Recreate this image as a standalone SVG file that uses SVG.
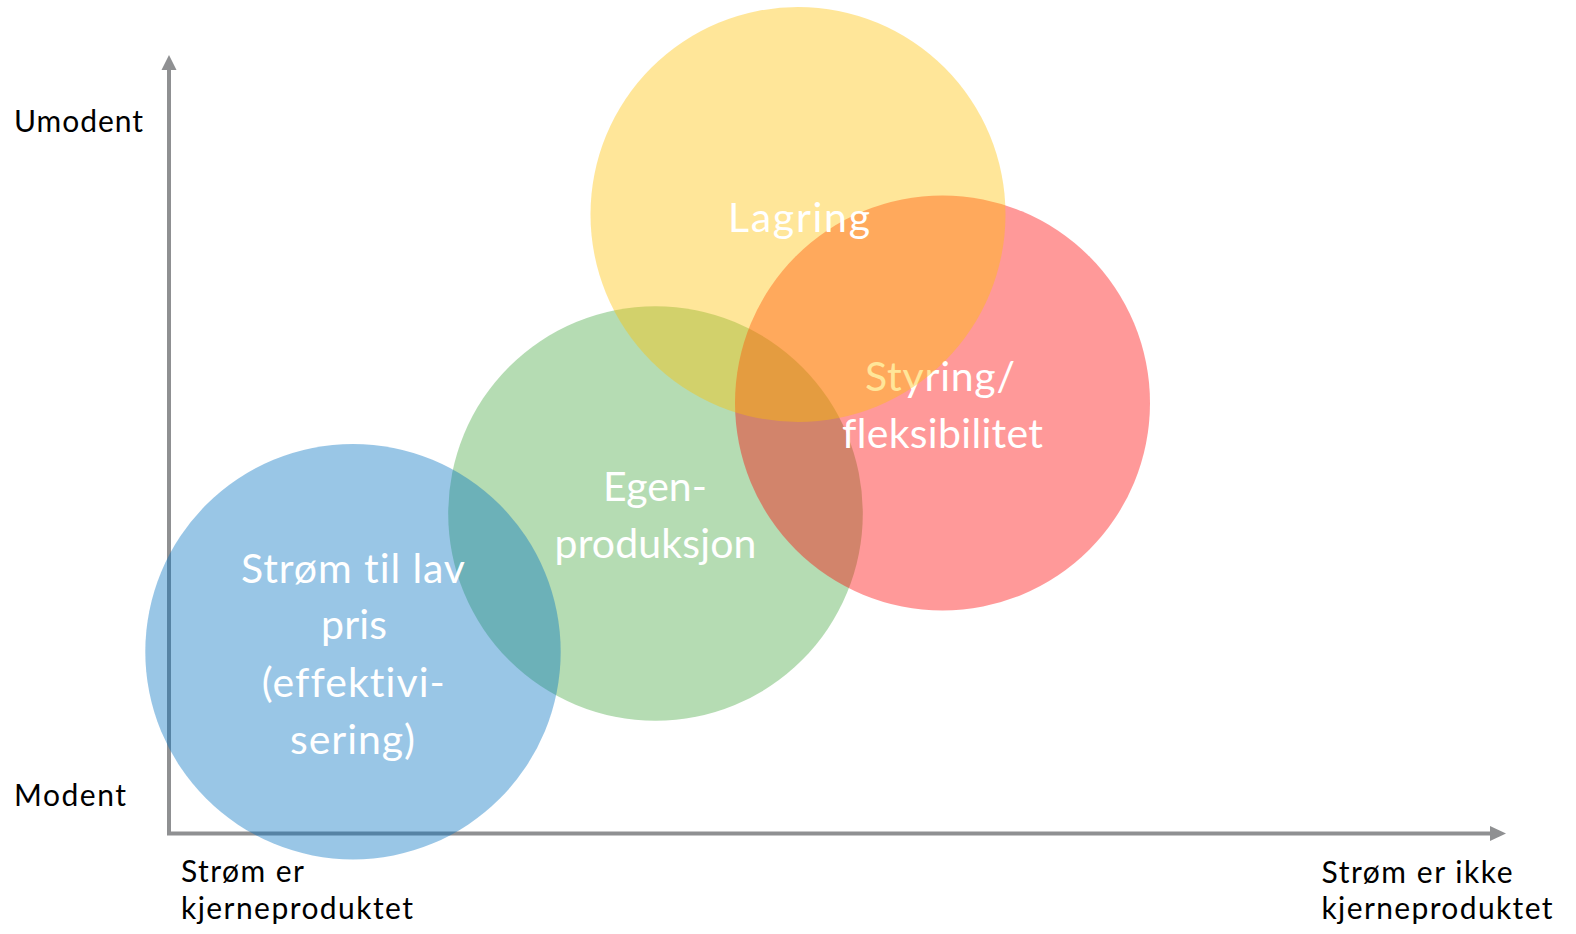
<svg xmlns="http://www.w3.org/2000/svg" width="1576" height="934" viewBox="0 0 1576 934">
<style>
.axis{stroke:#8f9092;stroke-width:4;fill:none}
.head{fill:#8f9092}
.lbl{font-family:Lato,"Noto Sans","DejaVu Sans",sans-serif;font-size:30px;fill:#000;font-variant-ligatures:none;font-feature-settings:"liga" 0,"clig" 0}
.ct{font-family:Lato,"Noto Sans","DejaVu Sans",sans-serif;font-size:41px;fill:#fff;text-anchor:middle;font-variant-ligatures:none;font-feature-settings:"liga" 0,"clig" 0}
.c{fill-opacity:0.4}
</style>
<rect width="1576" height="934" fill="#fff"/>
<g id="axes">
<line class="axis" x1="169" y1="833.5" x2="169" y2="68"/>
<polygon class="head" points="161.5,70 176.5,70 169,55"/>
<line class="axis" x1="167" y1="833.5" x2="1492" y2="833.5"/>
<polygon class="head" points="1490,826 1490,841 1506,833.5"/>
</g>
<g id="axis-labels">
<text class="lbl" x="14" y="131.5" textLength="129">Umodent</text>
<text class="lbl" x="14" y="806" textLength="112">Modent</text>
<text class="lbl" x="181" y="881.5" textLength="123">Strøm er</text>
<text class="lbl" x="181" y="919" textLength="232">kjerneproduktet</text>
<text class="lbl" x="1321.5" y="882.5" textLength="191">Strøm er ikke</text>
<text class="lbl" x="1321.5" y="918.5" textLength="231">kjerneproduktet</text>
</g>
<g id="egenproduksjon">
<circle class="c" cx="655.5" cy="513.5" r="207.3" fill="#47A741"/>
<text class="ct" x="655" y="501" textLength="104">Egen-</text>
<text class="ct" x="655.5" y="558.3" textLength="202">produksjon</text>
</g>
<g id="styring">
<circle class="c" cx="942.5" cy="403" r="207.5" fill="#FF0000"/>
<text class="ct" x="940" y="390.7" textLength="150">Styring/</text>
<text class="ct" x="942.5" y="448" textLength="201">fleksibilitet</text>
</g>
<g id="lagring">
<circle class="c" cx="798" cy="214.5" r="207.5" fill="#FFC000"/>
<text class="ct" x="799" y="231.7" textLength="142">Lagring</text>
</g>
<g id="strom-til-lav-pris">
<circle class="c" cx="353" cy="651.7" r="207.7" fill="#0070C0"/>
<text class="ct" x="353" y="582.7" textLength="224">Strøm til lav</text>
<text class="ct" x="354" y="639" textLength="66">pris</text>
<text class="ct" x="353.3" y="696.7" textLength="183">(effektivi-</text>
<text class="ct" x="352.5" y="754.3" textLength="125">sering)</text>
</g>
</svg>
